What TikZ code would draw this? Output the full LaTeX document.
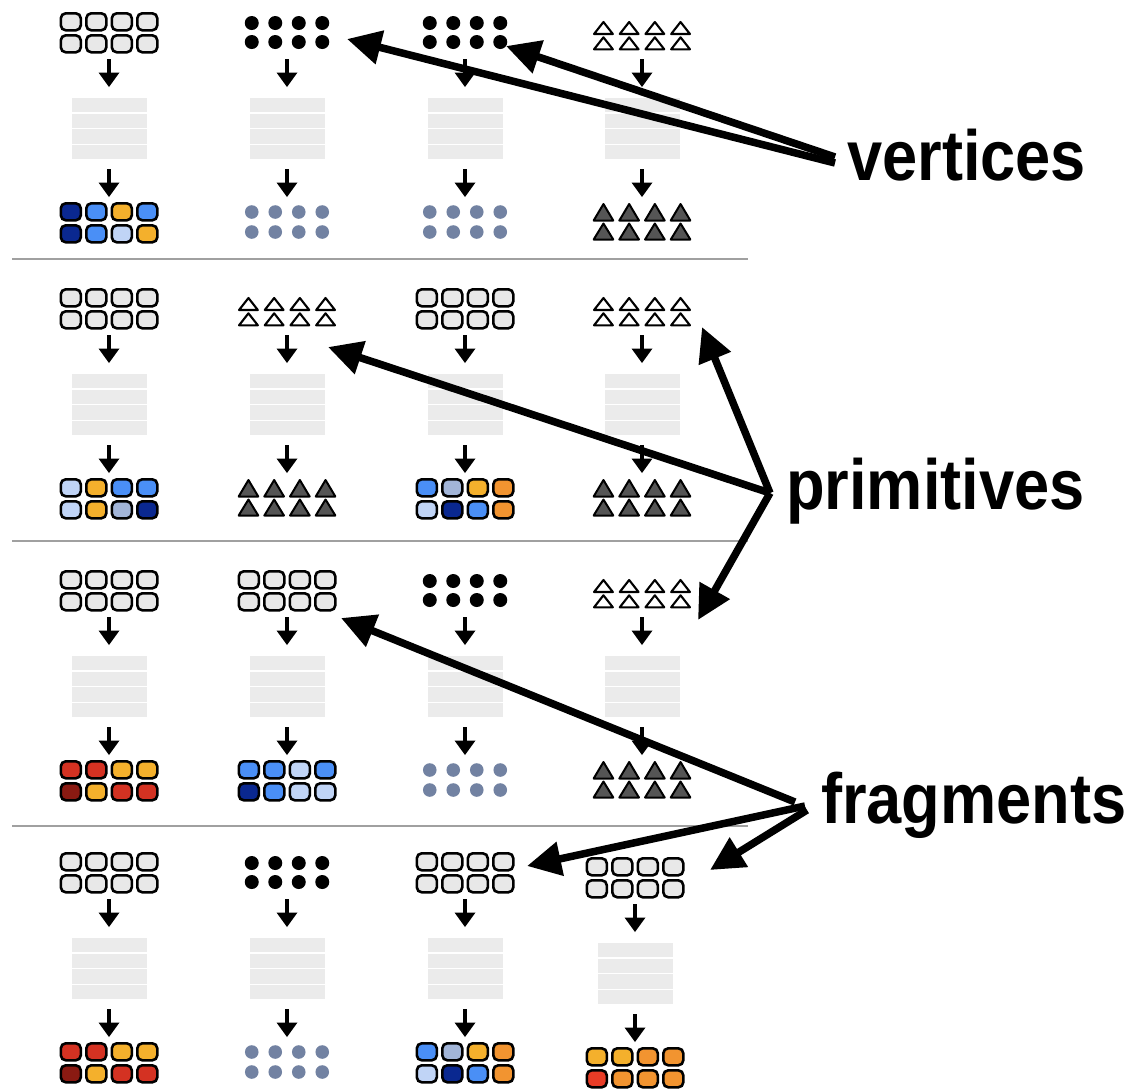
\documentclass[tikz,border=0pt]{standalone}
\usepackage{fontspec}
\setmainfont{Liberation Sans}
\usepackage{graphicx}
\usetikzlibrary{arrows.meta}

% palette
\definecolor{inp}{HTML}{E8E8E8}
\definecolor{stackfill}{HTML}{EBEBEB}
\definecolor{navy}{HTML}{0A2890}
\definecolor{blu}{HTML}{4A8FF6}
\definecolor{lgt}{HTML}{C0D4F6}
\definecolor{gbl}{HTML}{A2B5D8}
\definecolor{yor}{HTML}{F4B02C}
\definecolor{ora}{HTML}{F29430}
\definecolor{red}{HTML}{D43222}
\definecolor{dred}{HTML}{8A1A12}
\definecolor{rora}{HTML}{E83C26}
\definecolor{dotblue}{HTML}{7282A2}
\definecolor{trigray}{HTML}{555555}
\definecolor{sepgray}{HTML}{A0A0A0}

\tikzset{
  sqcell/.style={draw=black, line width=2.6pt, rounded corners=5pt},
  triin/.style={draw=black, fill=white, line width=2.1pt, line join=round},
  triout/.style={draw=black, fill=trigray, line width=2pt, line join=round},
  separator/.style={draw=sepgray, line width=2.2pt},
  bigarrow/.style={draw=black, line width=7.5pt, -{Triangle[length=34pt,width=33pt]}},
  lbl/.style={anchor=base west, inner sep=0pt, font=\bfseries\fontsize{71}{80}\selectfont},
}

% 4x2 grid of rounded squares, #1 centre x, #2 top, #3 eight colours
\newcommand\sqgrid[3]{%
  \foreach \cc [count=\k from 0] in {#3}{%
    \pgfmathtruncatemacro\sqc{mod(\k,4)}%
    \pgfmathtruncatemacro\sqr{\k/4}%
    \draw[sqcell, fill=\cc] (#1-49.5+1.3+25.5*\sqc, #2+1.3+22*\sqr) rectangle ++(20,17);}}
% 4x2 dots: centre x, first row y, row pitch, colour, radius
\newcommand\dotgrid[5]{%
  \foreach \i in {-1.5,-0.5,0.5,1.5}{\foreach \j in {0,1}{%
    \fill[#4] (#1+23.5*\i, #2+#3*\j) circle[radius=#5];}}}
% row of four triangles: centre x, apex y, height, half width, pitch, style
\newcommand\trirow[6]{%
  \foreach \i in {-1.5,-0.5,0.5,1.5}{%
    \draw[#6] (#1+#5*\i, #2) -- ++(#4,#3) -- ++(-2*#4,0) -- cycle;}}
% small downward arrow
\newcommand\flow[2]{%
  \fill (#1-2.4,#2) rectangle (#1+2.4,#2+14);
  \fill (#1-10.5,#2+13.5) -- (#1+10.5,#2+13.5) -- (#1,#2+28) -- cycle;}
% grey stack of four bars
\newcommand\stackbars[2]{%
  \foreach \k in {0,...,3}{\fill[stackfill] (#1-37.5,#2+15.6*\k) rectangle ++(75,14.4);}}
% pipeline body of one cell: arrow, stack, arrow
\newcommand\cellframe[2]{\flow{#1}{#2+47}\stackbars{#1}{#2+86}\flow{#1}{#2+157}}

\newcommand\insq[2]{\sqgrid{#1}{#2}{inp,inp,inp,inp,inp,inp,inp,inp}}
\newcommand\indots[2]{\dotgrid{#1}{#2+11}{19}{black}{7pt}}
\newcommand\intri[2]{\trirow{#1}{#2+10}{12}{9.4}{25.7}{triin}\trirow{#1}{#2+25.3}{12}{9.4}{25.7}{triin}}
\newcommand\outsq[3]{\sqgrid{#1}{#2+190}{#3}}
\newcommand\outdots[2]{\dotgrid{#1}{#2+200}{20}{dotblue}{6.8pt}}
\newcommand\outtri[2]{\trirow{#1}{#2+192}{16.5}{9.8}{25.7}{triout}\trirow{#1}{#2+211.5}{16}{9.8}{25.7}{triout}}

\begin{document}
\begin{tikzpicture}[x=1pt, y=-1pt]
\useasboundingbox (0,0) rectangle (1135,1088);

% row separators
\draw[separator] (12,259) -- (748,259);
\draw[separator] (12,541) -- (748,541);
\draw[separator] (12,826) -- (748,826);

% row 1
\insq{109}{12}   \cellframe{109}{12} \outsq{109}{12}{navy,blu,yor,blu,navy,blu,lgt,yor}
\indots{287}{12} \cellframe{287}{12} \outdots{287}{12}
\indots{465}{12} \cellframe{465}{12} \outdots{465}{12}
\intri{642}{12}  \cellframe{642}{12} \outtri{642}{12}

% row 2
\insq{109}{288}  \cellframe{109}{288} \outsq{109}{288}{lgt,yor,blu,blu,lgt,yor,gbl,navy}
\intri{287}{288} \cellframe{287}{288} \outtri{287}{288}
\insq{465}{288}  \cellframe{465}{288} \outsq{465}{288}{blu,gbl,yor,ora,lgt,navy,blu,ora}
\intri{642}{288} \cellframe{642}{288} \outtri{642}{288}

% row 3
\insq{109}{570}  \cellframe{109}{570} \outsq{109}{570}{red,red,yor,yor,dred,yor,red,red}
\insq{287}{570}  \cellframe{287}{570} \outsq{287}{570}{blu,blu,lgt,blu,navy,blu,lgt,lgt}
\indots{465}{570} \cellframe{465}{570} \outdots{465}{570}
\intri{642}{570} \cellframe{642}{570} \outtri{642}{570}

% row 4
\insq{109}{852}  \cellframe{109}{852} \outsq{109}{852}{red,red,yor,yor,dred,yor,red,red}
\indots{287}{852} \cellframe{287}{852} \outdots{287}{852}
\insq{465}{852}  \cellframe{465}{852} \outsq{465}{852}{blu,gbl,yor,ora,lgt,navy,blu,ora}
\insq{635}{857}  \cellframe{635}{857} \outsq{635}{857}{yor,yor,ora,ora,rora,ora,ora,ora}

% labels
\node[lbl] (vertices) at (847,180) {\scalebox{0.89}[1]{vertices}};
\node[lbl] (primitives) at (786,509) {\scalebox{0.89}[1]{primitives}};
\node[lbl] (fragments) at (821,823) {\scalebox{0.89}[1]{fragments}};

% arrow origins next to the labels
\coordinate (vA) at (835,163);
\coordinate (vB) at (835,157);
\coordinate (pO) at (770,493);
\coordinate (fA) at (795,802);
\coordinate (fB) at (805,806);
\coordinate (fC) at (807,810);

% arrow targets
\coordinate (v12) at (347,39);
\coordinate (v13) at (506,46);
\coordinate (p22) at (328,347);
\coordinate (p24) at (702,327);
\coordinate (p34) at (698,620);
\coordinate (f32) at (341,618);
\coordinate (f43) at (527,866);
\coordinate (f44) at (710,870);

\draw[bigarrow] (vA) -- (v12);
\draw[bigarrow] (vB) -- (v13);
\draw[bigarrow] (pO) -- (p22);
\draw[bigarrow] (pO) -- (p24);
\draw[bigarrow] (pO) -- (p34);
\draw[bigarrow] (fA) -- (f32);
\draw[bigarrow] (fB) -- (f43);
\draw[bigarrow] (fC) -- (f44);
\end{tikzpicture}
\end{document}
